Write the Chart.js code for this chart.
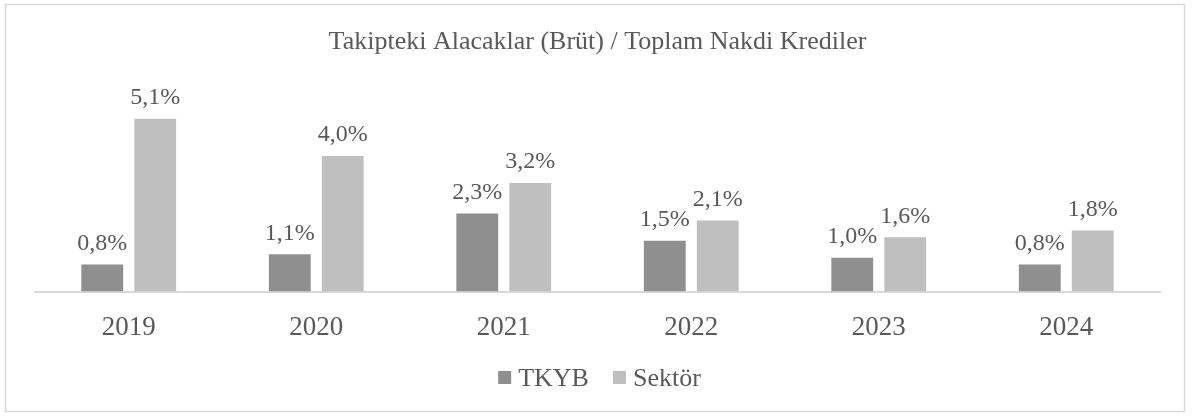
<!DOCTYPE html>
<html>
<head>
<meta charset="utf-8">
<script src="https://cdn.jsdelivr.net/npm/chart.js@4"></script>
<style>
  html, body { margin:0; padding:0; background:#fff; }
  #wrap { position:relative; width:1192px; height:417px; }
</style>
</head>
<body>
<div id="wrap"><canvas id="chart" width="1192" height="417"></canvas></div>
<script>
// data
const years = ["2019","2020","2021","2022","2023","2024"];
const tkyb = [0.8, 1.1, 2.3, 1.5, 1.0, 0.8];
const sektor = [5.1, 4.0, 3.2, 2.1, 1.6, 1.8];
const seriesNames = ["TKYB", "Sektör"];
const titleText = "Takipteki Alacaklar (Brüt) / Toplam Nakdi Krediler";

const textColor = '#595959';
const serif = '"Liberation Serif", "Times New Roman", serif';

// outer frame, value labels above bars, legend under the axis
const framePlugin = {
  id: 'frame',
  beforeDraw(chart){
    const c = chart.ctx;
    c.save();
    c.fillStyle = '#fff';
    c.fillRect(0, 0, chart.width, chart.height);
    c.strokeStyle = '#d9d9d9';
    c.lineWidth = 1.5;
    c.strokeRect(5.5, 4.5, 1179, 407);
    c.restore();
  },
  afterDatasetsDraw(chart){
    const c = chart.ctx;
    c.save();
    c.font = '24px ' + serif;
    c.fillStyle = textColor;
    c.textAlign = 'center';
    c.textBaseline = 'bottom';
    chart.data.datasets.forEach(function(ds, i){
      chart.getDatasetMeta(i).data.forEach(function(bar, j){
        const txt = ds.data[j].toFixed(1).replace('.', ',') + '%';
        c.fillText(txt, bar.x, bar.y - 9);
      });
    });
    c.restore();
  },
  afterDraw(chart){
    const c = chart.ctx;
    const ds = chart.data.datasets;
    const box = 13, gap = 7, itemGap = 24, y = 378;
    c.save();
    c.font = '26px ' + serif;
    c.textBaseline = 'middle';
    c.textAlign = 'left';
    const widths = ds.map(d => box + gap + c.measureText(d.label).width);
    const total = widths.reduce((a, b) => a + b, 0) + itemGap * (ds.length - 1);
    let x = (chart.chartArea.left + chart.chartArea.right) / 2 - total / 2 + 2;
    ds.forEach(function(d, i){
      c.fillStyle = d.backgroundColor;
      c.fillRect(x, y - 7, box, box);
      c.fillStyle = textColor;
      c.fillText(d.label, x + box + gap, y + 1);
      x += widths[i] + itemGap;
    });
    c.restore();
  }
};

new Chart(document.getElementById('chart'), {
  type: 'bar',
  data: {
    labels: years,
    datasets: [
      { label: seriesNames[0], data: tkyb, backgroundColor: '#8f8f8f' },
      { label: seriesNames[1], data: sektor, backgroundColor: '#bfbfbf' }
    ]
  },
  options: {
    responsive: false,
    animation: false,
    devicePixelRatio: 1,
    categoryPercentage: 0.565,
    barPercentage: 0.79,
    layout: { padding: { left: 35, right: 32, top: 0, bottom: 53 } },
    scales: {
      x: {
        grid: { display: false, drawTicks: false },
        border: { color: '#d9d9d9', width: 2 },
        ticks: { color: textColor, font: { family: serif, size: 27 }, padding: 20 }
      },
      y: { display: false, min: 0, max: 5.85 }
    },
    plugins: {
      title: {
        display: true, text: titleText, color: textColor,
        font: { family: serif, size: 26, weight: 'normal' },
        padding: { top: 27, bottom: 35 }
      },
      legend: { display: false },
      tooltip: { enabled: false }
    }
  },
  plugins: [framePlugin]
});
</script>
</body>
</html>
